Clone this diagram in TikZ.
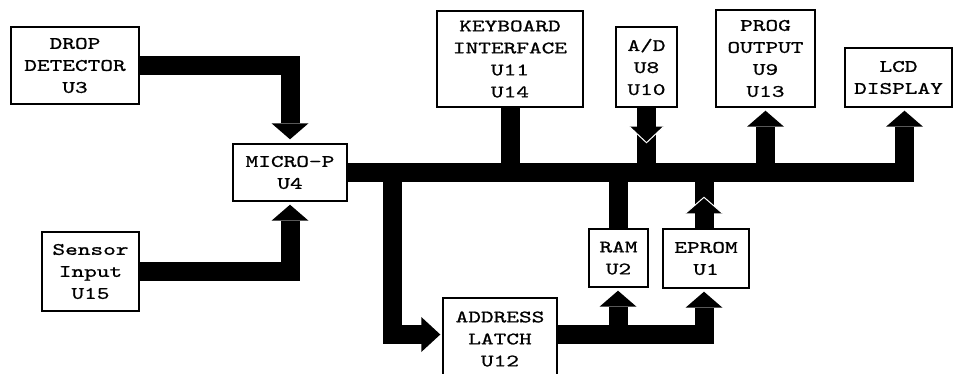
\documentclass[tikz,border=0pt]{standalone}
\usepackage{fontspec}
\newfontfamily\boxfont{lmmono10-regular}[Extension=.otf, FakeStretch=1.38, FakeBold=0.9]
\usetikzlibrary{calc}
\tikzset{
  blk/.style={draw, line width=1.4pt, inner sep=0pt, align=center,
    font=\boxfont\fontsize{17.5}{22}\selectfont},
  bus/.style={line width=19pt, line join=miter, line cap=butt},
  headup/.pic={\fill (0,0) -- (-18.5,16) -- (18.5,16) -- cycle;},
  headdown/.pic={\fill (0,0) -- (-18.5,-16) -- (18.5,-16) -- cycle;},
  headright/.pic={\fill (0,0) -- (-19,-17.5) -- (-19,17.5) -- cycle;},
  headupw/.pic={\fill (0,0) -- (-18.5,16) -- (18.5,16) -- cycle;
    \draw[white, line width=1pt] (-18.5,16) -- (0,0) -- (18.5,16);},
  headdownw/.pic={\fill (0,0) -- (-17,-16) -- (17,-16) -- cycle;
    \draw[white, line width=1pt] (-17,-16) -- (0,0) -- (17,-16);},
}
\begin{document}
\begin{tikzpicture}[x=1pt,y=-1pt]
\fill[white] (0,0) rectangle (953,373);
\useasboundingbox (0,0) rectangle (953,373);

% boxes
\node[blk, minimum width=128, minimum height=77] (drop)   at (75,65.5)   {DROP\\DETECTOR\\U3};
\node[blk, minimum width=114, minimum height=57] (micro)  at (290,172.5) {MICRO-P\\U4};
\node[blk, minimum width=97,  minimum height=79] (sensor) at (90.5,271.5) {Sensor\\Input\\U15};
\node[blk, minimum width=146, minimum height=96] (kbd)    at (510,59)    {KEYBOARD\\INTERFACE\\U11\\U14};
\node[blk, minimum width=61,  minimum height=80] (ad)     at (646.5,67)  {A/D\\U8\\U10};
\node[blk, minimum width=99,  minimum height=97] (prog)   at (765.5,58.5) {PROG\\OUTPUT\\U9\\U13};
\node[blk, minimum width=107, minimum height=59] (lcd)    at (898.5,77.5) {LCD\\DISPLAY};
\node[blk, minimum width=59,  minimum height=58] (ram)    at (618.5,258) {RAM\\U2};
\node[blk, minimum width=86,  minimum height=59] (eprom)  at (706,258.5) {EPROM\\U1};
\node[blk, minimum width=114, minimum height=82] (latch)  at (500,339)   {ADDRESS\\LATCH\\U12};

% helper coordinates
\coordinate (busR) at (904.5,172.5);
\coordinate (busL) at (392,172.5);
\coordinate (latchIn) at (422,334.5);
\coordinate (ramX) at (618,334.5);
\coordinate (epX) at (704,334.5);
\coordinate (epTop) at ($(eprom.north)+(-2,0)$);

% drop detector -> micro
\draw[bus] (drop.east) -| ($(micro.north)+(0,-20)$);
\pic at ($(micro.north)+(0,-4)$) {headdown};
% sensor -> micro
\draw[bus] (sensor.east) -| ($(micro.south)+(0,19)$);
\pic at ($(micro.south)+(0,3)$) {headup};
% main bus -> LCD
\draw[bus] (micro.east) -- (busR) -- ($(busR |- lcd.south)+(0,19)$);
\pic at ($(busR |- lcd.south)+(0,3)$) {headup};
% keyboard
\draw[bus] (kbd.south) -- (kbd.south |- busR);
% A/D
\draw[bus] (ad.south) -- (ad.south |- busR);
\pic at ($(ad.south)+(0,35)$) {headdownw};
% prog output
\draw[bus] (prog.south |- busR) -- ($(prog.south)+(0,19)$);
\pic at ($(prog.south)+(0,3)$) {headup};
% RAM data
\draw[bus] (ram.north |- busR) -- (ram.north);
% EPROM data
\draw[bus] (epTop) -- (epTop |- busR);
\pic at ($(epTop)+(0,-31)$) {headupw};
% bus -> address latch
\draw[bus] (busL) |- (latchIn);
\pic at ($(latch.west |- latchIn)+(-2,0)$) {headright};
% address latch -> RAM, EPROM
\draw[bus] (latch.east |- epX) -- (epX) -- ($(eprom.south -| epX)+(0,19)$);
\pic at ($(eprom.south -| epX)+(0,3)$) {headup};
\draw[bus] (ramX) -- ($(ram.south -| ramX)+(0,19)$);
\pic at ($(ram.south -| ramX)+(0,3)$) {headup};
\end{tikzpicture}
\end{document}
